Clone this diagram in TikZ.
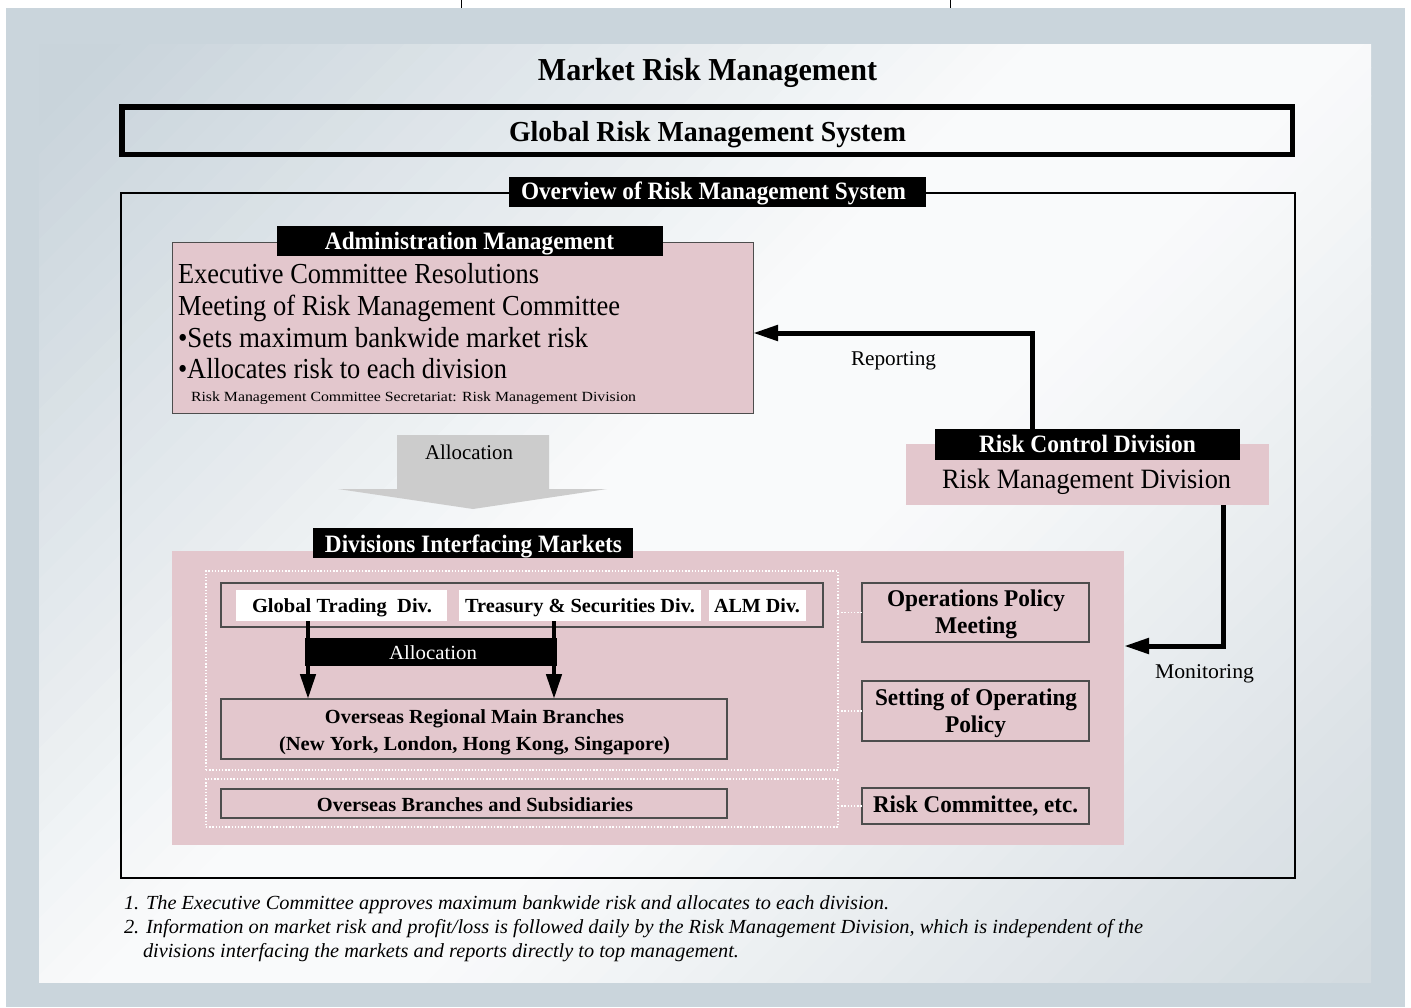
\documentclass[tikz,border=0pt]{standalone}
\usepackage{fontspec}
\setmainfont{Liberation Serif}
\usepackage{graphicx}
\usetikzlibrary{arrows.meta}

\definecolor{outerbg}{HTML}{CAD5DC}
\definecolor{panelA}{HTML}{C9D4DB}
\definecolor{panelB}{HTML}{F9FAFB}
\definecolor{panelC}{HTML}{D3DBE0}
\definecolor{rose}{HTML}{E3C7CD}
\definecolor{edge}{HTML}{4D4D4D}
\definecolor{arrowgrey}{HTML}{CCCCCC}

% font size in pt, and a horizontal fit of a text to a given width
\newcommand\fsz[1]{\fontsize{#1pt}{#1pt}\selectfont}
\newcommand\fitw[2]{\resizebox{#1pt}{\height}{#2}}

\begin{document}
\begin{tikzpicture}[x=1pt,y=-1pt,
  txt/.style={inner sep=0pt, outer sep=0pt, anchor=base},
  txtl/.style={txt, anchor=base west},
  rosebox/.style={inner sep=0pt, outer sep=0pt, fill=rose, draw=edge, line width=1pt},
  rosefill/.style={inner sep=0pt, outer sep=0pt, fill=rose},
  framebox/.style={inner sep=0pt, outer sep=0pt, draw=edge, line width=1.2pt},
  blacktag/.style={inner sep=0pt, outer sep=0pt, fill=black},
  whitetag/.style={inner sep=0pt, outer sep=0pt, fill=white},
  dotframe/.style={inner sep=0pt, outer sep=0pt, draw=white, line width=1.4pt, dash pattern=on 1.4pt off 1.8pt},
  dotlink/.style={draw=white, line width=1.4pt, dash pattern=on 1.4pt off 1.8pt},
  flowline/.style={line width=5pt, -{Triangle[length=25pt,width=15pt]}},
  downline/.style={line width=4.5pt, -{Triangle[length=25pt,width=15pt]}},
  headfont/.style={font=\fsz{25}\bfseries, text=white},
  bodyfont/.style={font=\fsz{29}},
  boldsmall/.style={font=\fsz{20}\bfseries},
  boldmid/.style={font=\fsz{24}\bfseries},
  plain/.style={font=\fsz{21}},
  note/.style={font=\fsz{20}\itshape},
  band/.style={rotate around={45:(740,500)}}
]
\useasboundingbox (0,0) rectangle (1411,1007);

% page background
\fill[outerbg] (6,8) rectangle (1405,1007);
\draw[line width=0.8pt] (461,0) -- (461,8);
\draw[line width=0.8pt] (950,0) -- (950,8);

% inner panel: diagonal bands, light along the rising diagonal
\begin{scope}
  \clip (39,44) rectangle (1371,982);
  \fill[panelB] (39,44) rectangle (1371,982);
  \foreach \s in {-900,-880,...,-20} {
    \pgfmathtruncatemacro\p{max(0,min(100,100-(abs(\s+10)-120)/6.5))}
    \fill[panelB!\p!panelA, band] (-500,500+\s) rectangle (2000,521+\s);
  }
  \foreach \s in {0,20,...,900} {
    \pgfmathtruncatemacro\p{max(0,min(100,100-(abs(\s+10)-120)/6.5))}
    \fill[panelB!\p!panelC, band] (-500,500+\s) rectangle (2000,521+\s);
  }
\end{scope}

% title and system banner
\node[txt, font=\fsz{32}\bfseries] (title) at (707.5,80) {\fitw{339}{Market Risk Management}};
\node[inner sep=0pt, outer sep=0pt, draw=black, line width=5.5pt,
      minimum width=1170.5pt, minimum height=47.5pt] (grms) at (707,130.5) {};
\node[txt, font=\fsz{29}\bfseries] (grmstext) at (707.5,141) {\fitw{397}{Global Risk Management System}};

% overview frame
\node[inner sep=0pt, outer sep=0pt, draw=black, line width=2pt,
      minimum width=1174pt, minimum height=685pt] (overview) at (708,535.5) {};
\node[blacktag, minimum width=417pt, minimum height=30pt] (overtag) at (717.5,192) {};
\node[txt, headfont] (overtext) at (713.5,199) {\fitw{385}{Overview of Risk Management System}};

% administration management
\node[rosebox, minimum width=581pt, minimum height=171pt] (admin) at (462.5,327.5) {};
\node[blacktag, minimum width=386pt, minimum height=30pt] (admintag) at (470,241) {};
\node[txt, headfont] (admintext) at (469.5,249) {\fitw{289}{Administration Management}};
\node[txtl, bodyfont] (adm1) at (178,283) {\fitw{361}{Executive Committee Resolutions}};
\node[txtl, bodyfont] (adm2) at (178,315) {\fitw{442}{Meeting of Risk Management Committee}};
\node[txtl, bodyfont] (adm3) at (178,347) {\fitw{410}{\textbullet Sets maximum bankwide market risk}};
\node[txtl, bodyfont] (adm4) at (178,378) {\fitw{329}{\textbullet Allocates risk to each division}};
\node[txtl, font=\fsz{14}] (adm5) at (191,401) {\fitw{445}{Risk Management Committee Secretariat: Risk Management Division}};

% risk control division
\node[rosefill, minimum width=363pt, minimum height=61pt] (rmd) at (1087.5,474.5) {};
\node[blacktag, minimum width=305pt, minimum height=31pt] (rcdtag) at (1087.5,444.5) {};
\node[txt, headfont] (rcdtext) at (1087.5,452) {\fitw{217}{Risk Control Division}};
\node[txt, font=\fsz{28}] (rmdtext) at (1086.5,488) {\fitw{289}{Risk Management Division}};

% reporting
\coordinate (repturn) at (1032,333);
\draw[flowline] (rcdtag.north -| repturn) -- (repturn) -- (admin.east |- repturn);
\node[txt, plain] (reptext) at (893.5,365) {\fitw{85}{Reporting}};

% allocation block arrow
\fill[arrowgrey] (397,435) -- (549,435) -- (549,489) -- (607,489) -- (473,509)
  -- (338,489) -- (397,489) -- cycle;
\node[txt, plain] (alloctext) at (469,459) {\fitw{88}{Allocation}};

% divisions interfacing markets
\node[rosefill, minimum width=952pt, minimum height=294pt] (divs) at (648,698) {};
\node[blacktag, minimum width=320pt, minimum height=30pt] (divstag) at (473,543) {};
\node[txt, headfont] (divstext) at (473.5,552) {\fitw{297}{Divisions Interfacing Markets}};

\node[dotframe, minimum width=632pt, minimum height=199pt] (grpA) at (522,670.5) {};
\node[dotframe, minimum width=632pt, minimum height=48pt] (grpB) at (522,803) {};

\node[framebox, minimum width=602pt, minimum height=44pt] (divrow) at (522,605) {};
\node[whitetag, minimum width=211pt, minimum height=31pt] (gtd) at (341.5,605.5) {};
\node[whitetag, minimum width=242pt, minimum height=31pt] (tsd) at (580,605.5) {};
\node[whitetag, minimum width=97pt, minimum height=31pt] (alm) at (757.5,605.5) {};
\node[txt, boldsmall] (gtdtext) at (342,612) {\fitw{180}{Global Trading~ Div.}};
\node[txt, boldsmall] (tsdtext) at (580,612) {\fitw{230}{Treasury \& Securities Div.}};
\node[txt, boldsmall] (almtext) at (757,612) {\fitw{86}{ALM Div.}};

\node[framebox, minimum width=506pt, minimum height=60pt] (ormb) at (474,729) {};
\node[txt, boldsmall] (ormb1) at (474.5,723) {\fitw{299}{Overseas Regional Main Branches}};
\node[txt, boldsmall] (ormb2) at (474.5,750) {\fitw{391}{(New York, London, Hong Kong, Singapore)}};

\coordinate (leftdrop) at (308,0);
\coordinate (rightdrop) at (554,0);
\draw[downline] (gtd.south -| leftdrop) -- (ormb.north -| leftdrop);
\draw[downline] (tsd.south -| rightdrop) -- (ormb.north -| rightdrop);
\node[blacktag, minimum width=252pt, minimum height=28pt] (allocband) at (431,652) {};
\node[txt, font=\fsz{20}, text=white] (allocbandtext) at (433,659) {\fitw{88}{Allocation}};

\node[framebox, minimum width=506pt, minimum height=29pt] (obs) at (474,803.5) {};
\node[txt, boldsmall] (obstext) at (475,811) {\fitw{316}{Overseas Branches and Subsidiaries}};

% policy bodies
\node[framebox, minimum width=227pt, minimum height=59pt] (ops) at (975.5,612.5) {};
\node[txt, boldmid] (ops1) at (976,606) {\fitw{178}{Operations Policy}};
\node[txt, boldmid] (ops2) at (976,633) {\fitw{82}{Meeting}};
\node[framebox, minimum width=227pt, minimum height=60pt] (sop) at (975.5,711) {};
\node[txt, boldmid] (sop1) at (976,705) {\fitw{202}{Setting of Operating}};
\node[txt, boldmid] (sop2) at (975.5,732) {\fitw{61}{Policy}};
\node[framebox, minimum width=227pt, minimum height=36pt] (rco) at (975.5,806) {};
\node[txt, boldmid] (rcotext) at (975.5,812) {\fitw{205}{Risk Committee, etc.}};

\draw[dotlink] (grpA.east |- ops.west) -- (ops.west);
\draw[dotlink] (grpA.east |- sop.west) -- (sop.west);
\draw[dotlink] (grpB.east |- rco.west) -- (rco.west);

% monitoring
\coordinate (monturn) at (1223,646);
\draw[flowline] (rmd.south -| monturn) -- (monturn) -- (divs.east |- monturn);
\node[txt, plain] (montext) at (1204.5,678) {\fitw{99}{Monitoring}};

% notes
\node[txtl, note] (note1) at (124,909) {\fitw{765}{1. The Executive Committee approves maximum bankwide risk and allocates to each division.}};
\node[txtl, note] (note2) at (124,933) {\fitw{1019}{2. Information on market risk and profit/loss is followed daily by the Risk Management Division, which is independent of the}};
\node[txtl, note] (note3) at (143,957) {\fitw{596}{divisions interfacing the markets and reports directly to top management.}};
\end{tikzpicture}
\end{document}
